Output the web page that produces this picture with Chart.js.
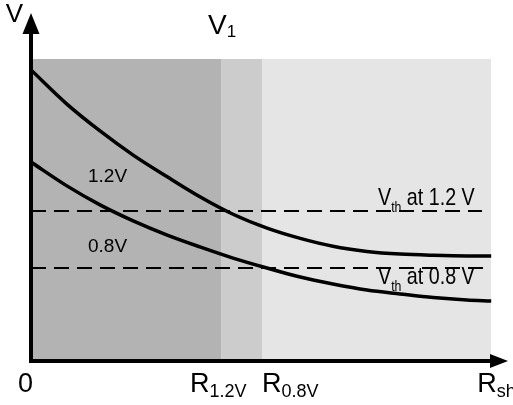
<!DOCTYPE html>
<html>
<head>
<meta charset="utf-8">
<script src="https://cdn.jsdelivr.net/npm/chart.js@4.4.1/dist/chart.umd.min.js"></script>
<style>
  html, body { margin: 0; padding: 0; background: #ffffff; }
  #chart { display: block; }
</style>
</head>
<body>
<canvas id="chart" width="513" height="405"></canvas>
<script>
// Regiões sombreadas (limites em x) e a altura do sombreado
const bandEdges = [0, 4.13, 5.02, 10];
const bandTop = 10;

// Posições em x dos pontos
const curveX = [0, 0.78, 1.5, 2.22, 2.96, 3.67, 4.39, 5.13, 5.85, 6.56, 7.3, 8.02, 8.74, 9.47, 10];

// Curva de V1 para 1.2V
const curve12Y = [9.64, 8.51, 7.62, 6.82, 6.1, 5.44, 4.86, 4.4, 4.06, 3.8, 3.63, 3.54, 3.5, 3.48, 3.48];

// Curva de V1 para 0.8V
const curve08Y = [6.59, 5.8, 5.17, 4.64, 4.17, 3.78, 3.41, 3.08, 2.78, 2.55, 2.35, 2.22, 2.1, 2.02, 1.99];

// Limiares Vth (nível e fim da linha tracejada)
const thresholdLevels = [4.97, 3.08];
const thresholdEnds = [9.8, 9.91];
const thresholdLabels = ['1.2 V', '0.8 V'];

// Rótulos do eixo x: texto principal e subscrito
const tickMain = ['0', 'R', 'R', 'R'];
const tickSub = ['', '1.2V', '0.8V', 'sh'];
const curveLabels = ['1.2V', '0.8V'];

const FONT = "'Liberation Sans', Arial, Helvetica, sans-serif";
const bandColors = ['#b3b3b3', '#cccccc', '#e5e5e5'];

function toPoints(xs, ys) {
  return xs.map((x, i) => ({ x: x, y: ys[i] }));
}

const datasets = [];

// Curvas
[curve12Y, curve08Y].forEach(function (ys) {
  datasets.push({
    data: toPoints(curveX, ys),
    borderColor: '#000000',
    borderWidth: 3.5,
    pointRadius: 0,
    fill: false,
    cubicInterpolationMode: 'monotone',
    order: 0
  });
});

// Linhas tracejadas
thresholdLevels.forEach(function (lvl, i) {
  datasets.push({
    data: [{ x: 0, y: lvl }, { x: thresholdEnds[i], y: lvl }],
    borderColor: '#000000',
    borderWidth: 2,
    borderDash: [15, 8],
    pointRadius: 0,
    fill: false,
    order: 1
  });
});

// Faixas sombreadas
for (let i = 0; i < bandEdges.length - 1; i++) {
  datasets.push({
    data: [{ x: bandEdges[i], y: bandTop }, { x: bandEdges[i + 1], y: bandTop }],
    borderWidth: 0,
    borderColor: 'rgba(0,0,0,0)',
    backgroundColor: bandColors[i],
    pointRadius: 0,
    fill: 'origin',
    order: 5
  });
}

// Escreve texto com subscrito (sx = compressão horizontal)
function drawSub(ctx, main, sub, x, y, size, subSize, drop, sx) {
  sx = sx || 1;
  ctx.save();
  ctx.translate(x, y);
  ctx.scale(sx, 1);
  ctx.font = size + 'px ' + FONT;
  ctx.textAlign = 'left';
  ctx.textBaseline = 'alphabetic';
  ctx.fillText(main, 0, 0);
  let w = ctx.measureText(main).width;
  if (sub) {
    ctx.font = subSize + 'px ' + FONT;
    ctx.fillText(sub, w, drop);
    w += ctx.measureText(sub).width;
  }
  ctx.restore();
  return x + w * sx;
}

const axesPlugin = {
  id: 'axesPlugin',
  afterDatasetsDraw(chart) {
    const ctx = chart.ctx;
    const xs = chart.scales.x;
    const ys = chart.scales.y;
    const x0 = xs.getPixelForValue(0);
    const y0 = ys.getPixelForValue(0);
    const area = chart.chartArea;

    ctx.save();
    ctx.fillStyle = '#000000';
    ctx.strokeStyle = '#000000';
    ctx.lineWidth = 4;
    ctx.lineCap = 'butt';

    // eixo y com seta
    ctx.beginPath();
    ctx.moveTo(x0, y0 + 2);
    ctx.lineTo(x0, area.top + 18);
    ctx.stroke();
    ctx.beginPath();
    ctx.moveTo(x0, area.top - 2);
    ctx.lineTo(x0 - 8.5, area.top + 19);
    ctx.lineTo(x0 + 8.5, area.top + 19);
    ctx.closePath();
    ctx.fill();

    // eixo x com seta
    ctx.beginPath();
    ctx.moveTo(x0 - 2, y0);
    ctx.lineTo(area.right - 15, y0);
    ctx.stroke();
    ctx.beginPath();
    ctx.moveTo(area.right + 3, y0);
    ctx.lineTo(area.right - 15, y0 - 7);
    ctx.lineTo(area.right - 15, y0 + 7);
    ctx.closePath();
    ctx.fill();

    // rótulos dos eixos
    ctx.font = '26px ' + FONT;
    ctx.textAlign = 'right';
    ctx.fillText('V', x0 - 8, area.top + 7);
    drawSub(ctx, 'V', '1', xs.getPixelForValue(bandEdges[1]) - 13, area.top + 19, 28, 17, 3);

    // rótulos do eixo x
    const tickX = [
      x0 - 13,
      xs.getPixelForValue(bandEdges[1]) - 31,
      xs.getPixelForValue(bandEdges[2]),
      xs.getPixelForValue(bandEdges[3]) - 14
    ];
    tickMain.forEach(function (t, i) {
      drawSub(ctx, t, tickSub[i], tickX[i], y0 + 31, 27, 18, 5);
    });

    // rótulos das curvas
    ctx.font = '19px ' + FONT;
    ctx.textAlign = 'left';
    ctx.fillText(curveLabels[0], x0 + 57, ys.getPixelForValue(thresholdLevels[0]) - 29);
    ctx.fillText(curveLabels[1], x0 + 57, ys.getPixelForValue(thresholdLevels[1]) - 16);

    // rótulos dos limiares: V_th + " at ..." com fonte um pouco condensada
    thresholdLevels.forEach(function (lvl, i) {
      const yy = ys.getPixelForValue(lvl) + (i === 0 ? -6 : 16);
      const end = drawSub(ctx, 'V', 'th', 378, yy, 24, 15, 7, 0.82);
      drawSub(ctx, ' at ' + thresholdLabels[i], '', end, yy, 24, 15, 7, 0.82);
    });

    ctx.restore();
  }
};

new Chart(document.getElementById('chart'), {
  type: 'line',
  data: { datasets: datasets },
  options: {
    responsive: false,
    animation: false,
    layout: { padding: { left: 31, right: 8, top: 15, bottom: 44 } },
    plugins: { legend: { display: false }, tooltip: { enabled: false } },
    scales: {
      x: { type: 'linear', min: 0, max: 10.3, display: false },
      y: { type: 'linear', min: 0, max: 11.46, display: false }
    }
  },
  plugins: [axesPlugin]
});
</script>
</body>
</html>
